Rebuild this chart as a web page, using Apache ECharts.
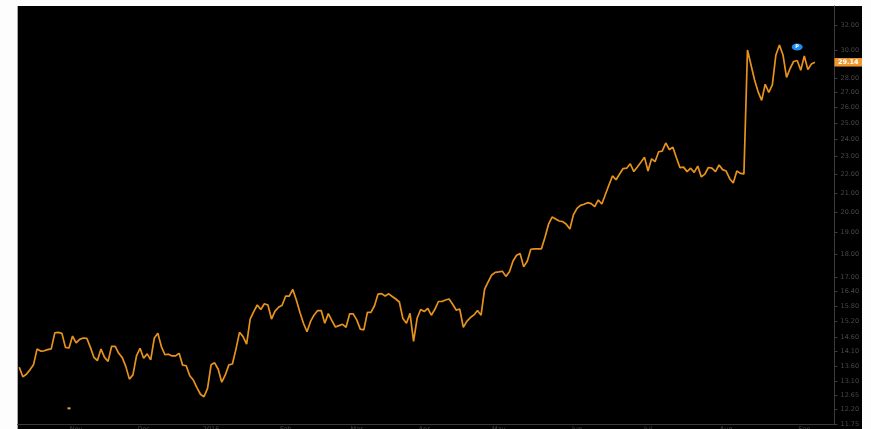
<!DOCTYPE html>
<html><head><meta charset="utf-8">
<style>html,body{margin:0;padding:0;background:#fdfdfd;overflow:hidden}#c{width:871px;height:429px}</style>
<script src="https://cdn.jsdelivr.net/npm/echarts@6/dist/echarts.min.js"></script>
</head><body><div id="c"></div>
<script>
const prices = [
13.56,13.24,13.32,13.47,13.64,14.19,14.12,14.13,14.17,14.20,14.78,14.80,14.76,14.25,14.23,14.66,14.41,14.54,14.59,14.58,
14.26,13.90,13.79,14.19,13.90,13.76,14.29,14.29,14.04,13.89,13.58,13.16,13.30,13.95,14.22,13.87,14.02,13.81,14.58,14.77,
14.28,13.99,14.01,13.95,13.95,14.04,13.63,13.61,13.27,13.13,12.88,12.67,12.59,12.86,13.64,13.71,13.49,13.06,13.30,13.64,13.67,
14.19,14.80,14.64,14.37,15.30,15.59,15.85,15.67,15.90,15.85,15.30,15.61,15.76,15.84,16.21,16.21,16.48,16.05,15.56,15.14,
14.82,15.21,15.46,15.63,15.63,15.14,15.51,15.24,15.00,15.05,15.10,14.99,15.50,15.50,15.27,14.92,14.89,15.56,15.56,15.82,
16.29,16.31,16.21,16.30,16.19,16.09,15.97,15.32,15.14,15.52,14.47,15.33,15.67,15.59,15.72,15.45,15.68,15.99,15.99,16.05,
16.09,15.88,15.65,15.69,14.99,
15.21,15.36,15.46,15.63,15.45,16.49,16.80,17.09,17.20,17.22,17.25,17.03,17.23,17.70,17.96,18.03,17.44,17.69,18.23,18.25,
18.25,18.25,18.79,19.41,19.76,19.67,19.57,19.54,19.41,19.18,19.87,20.20,20.35,20.41,20.49,20.44,20.29,20.63,20.42,20.91,21.42,
21.91,21.70,22.02,22.32,22.34,22.59,22.15,22.41,22.68,22.97,22.18,22.87,22.72,23.28,23.32,23.80,23.40,23.55,22.93,22.37,
22.40,22.15,22.34,22.11,22.46,21.86,22.01,22.38,22.34,22.15,22.52,22.26,22.18,21.76,21.53,22.18,22.05,22.02,
30.05,28.94,27.87,27.06,26.48,27.58,27.02,27.53,29.68,30.43,29.68,28.06,28.69,29.20,29.27,28.56,29.60,28.61,29.02,29.14];
const monthLabels = ["Nov","Dec","2016","Feb","Mar","Apr","May","Jun","Jul","Aug","Sep"];
const monthIndex = [16,35,54,75,95,114,135,157,177,199,221];
const yTicks = [32,30,28,27,26,25,24,23,22,21,20,19,18,17,16.4,15.8,15.2,14.6,14.1,13.6,13.1,12.65,12.2,11.75];
const lastPrice = 29.14;
const padBands = 5;
const categories = prices.concat(new Array(padBands).fill(null)).map((_, i) => String(i));
const labelAt = {};
monthIndex.forEach((idx, k) => { labelAt[idx] = monthLabels[k]; });
const isMonth = (i) => labelAt[i] !== undefined;
const chart = echarts.init(document.getElementById('c'), null, {renderer:'canvas'});
const axisColor = '#3c3c3c', textColor = '#484848', orange = '#e8921e';
chart.setOption({
  animation:false,
  backgroundColor:'#fdfdfd',
  graphic:[
    {type:'rect', z:-10, silent:true, shape:{x:17,y:6,width:845,height:423}, style:{fill:'#000'}},
    {type:'rect', z:-9, silent:true, shape:{x:17,y:6,width:1,height:423}, style:{fill:'#a8a8a8'}}
  ],
  grid:{left:17.5, top:6, width:817, height:418.3, containLabel:false, outerBoundsMode:'none'},
  xAxis:{
    type:'category', data:categories, boundaryGap:true,
    axisLine:{lineStyle:{color:axisColor,width:1}},
    axisTick:{alignWithLabel:true, length:2, interval:(i)=>isMonth(i), lineStyle:{color:'#555'}},
    axisLabel:{interval:(i)=>isMonth(i), formatter:(v)=>labelAt[+v]||'', color:textColor, fontFamily:'DejaVu Sans', fontSize:6.5, margin:1.5},
    splitLine:{show:false}
  },
  yAxis:[{
    type:'log', logBase:10, position:'right', min:11.75, max:33.56,
    axisLine:{show:true,lineStyle:{color:axisColor,width:1}},
    axisTick:{show:true,length:3,customValues:yTicks,lineStyle:{color:axisColor}},
    axisLabel:{
      customValues:yTicks, margin:6, showMinLabel:true, showMaxLabel:true,
      color:textColor, fontFamily:'DejaVu Sans', fontSize:6.5,
      formatter:(v)=>Number(v).toFixed(2)
    },
    splitLine:{show:false}
  },{
    type:'log', logBase:10, position:'right', min:11.75, max:33.56,
    axisLine:{show:false}, axisTick:{show:false}, splitLine:{show:false},
    axisLabel:{
      customValues:[lastPrice], margin:0, align:'left',
      formatter:(v)=>'{tag|'+lastPrice.toFixed(2)+'}',
      rich:{tag:{backgroundColor:'#f0962a',color:'#fff',fontWeight:'bold',fontFamily:'DejaVu Sans',fontSize:6.5,
                 width:27.5,height:8.5,lineHeight:8.5,align:'center'}}
    }
  }],
  series:[{
    type:'line', data:prices, yAxisIndex:0, showSymbol:false, symbol:'none', smooth:false,
    lineStyle:{color:orange,width:1.7},
    itemStyle:{color:orange},
    markPoint:{
      silent:true, animation:false,
      data:[
        {coord:['219',30.28], symbol:'circle', symbolSize:[11,7], itemStyle:{color:'#1e90ec'},
         label:{show:true,formatter:'P',color:'#fff',fontSize:5,fontWeight:'bold',fontFamily:'DejaVu Sans',position:'inside'}},
        {coord:['14',12.23], symbol:'rect', symbolSize:[3,2], itemStyle:{color:'#e8a33a'}, label:{show:false}}
      ]
    }
  }]
});
</script></body></html>
